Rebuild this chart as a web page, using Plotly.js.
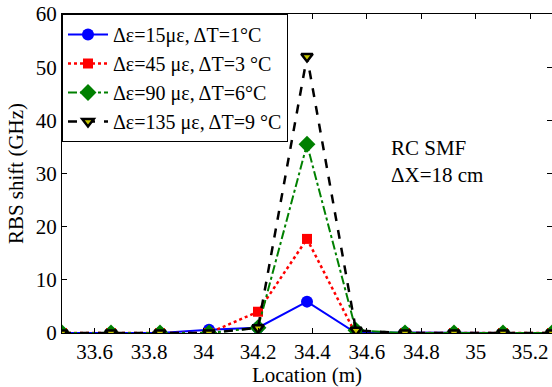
<!DOCTYPE html>
<html><head><meta charset="utf-8">
<script src="https://cdn.plot.ly/plotly-3.0.1.min.js"></script>
<style>body{margin:0;background:#fff}#c{width:552px;height:387px}</style>
</head><body><div id="c"></div>
<script>
const location_m = [33.48, 33.66, 33.84, 34.02, 34.20, 34.38, 34.56, 34.74, 34.92, 35.10, 35.28];
const shift15 = [0, 0, 0, 0.6, 1.0, 5.9, 0, 0.1, 0, 0, 0];
const shift45 = [0, 0, 0, 0, 4.0, 17.7, -0.3, 0, 0, 0, 0];
const shift90 = [0, 0, 0, 0, 1.0, 35.5, 0.5, 0, 0, 0, 0];
const shift135 = [0, 0, 0, 0, 1.0, 52.0, 0.5, 0, 0, 0, 0];
const names = ['Δε=15με, ΔT=1°C', 'Δε=45 με, ΔT=3 °C', 'Δε=90 με, ΔT=6°C', 'Δε=135 με, ΔT=9 °C'];
const xTicks = [33.6, 33.8, 34, 34.2, 34.4, 34.6, 34.8, 35, 35.2];
const yTicks = [0, 10, 20, 30, 40, 50, 60];

const font = {family: 'Liberation Serif', size: 21, color: '#000'};
const legendFont = {family: 'Liberation Serif', size: 20, color: '#000'};
const traces = [
  {x: location_m, y: shift15, name: names[0], mode: 'lines+markers',
   line: {color: '#0000ff', width: 2, dash: 'solid'},
   marker: {symbol: 'circle', size: 12, color: '#0000ff'}},
  {x: location_m, y: shift45, name: names[1], mode: 'lines+markers',
   line: {color: '#ff0000', width: 2.5, dash: 'dot'},
   marker: {symbol: 'square', size: 10, color: '#ff0000'}},
  {x: location_m, y: shift90, name: names[2], mode: 'lines+markers',
   line: {color: '#008000', width: 2, dash: 'dashdot'},
   marker: {symbol: 'diamond', size: 13, color: '#008000'}},
  {x: location_m, y: shift135, name: names[3], mode: 'lines+markers',
   line: {color: '#000000', width: 2.5, dash: 'dash'},
   marker: {symbol: 'triangle-down', size: 10, color: '#c8c800', line: {color: '#000', width: 2.5}}}
];
const layout = {
  width: 552, height: 387,
  margin: {l: 62, r: 0, t: 14, b: 54},
  paper_bgcolor: '#fff', plot_bgcolor: '#fff',
  font: font,
  showlegend: true,
  legend: {x: 0, y: 1, xanchor: 'left', yanchor: 'top', bordercolor: '#000', borderwidth: 1,
           bgcolor: '#fff', font: legendFont, tracegroupgap: 0, itemwidth: 40},
  xaxis: {range: [33.48, 35.28], tickvals: xTicks, ticktext: xTicks.map(String),
          ticks: 'inside', ticklen: 5, tickcolor: '#000', showline: true, linecolor: '#000', linewidth: 1,
          mirror: 'ticks', showgrid: false, zeroline: false, tickfont: font,
          title: {text: 'Location (m)', font: font, standoff: 2}},
  yaxis: {range: [0, 60], tickvals: yTicks, ticks: 'inside', ticklen: 5, tickcolor: '#000',
          showline: true, linecolor: '#000', linewidth: 1, mirror: 'ticks', showgrid: false,
          zeroline: false, tickfont: font,
          title: {text: 'RBS shift (GHz)', font: font, standoff: 6}},
  annotations: [
    {xref: 'paper', yref: 'paper', x: 0.667, y: 0.45, xanchor: 'left', yanchor: 'bottom',
     text: 'RC SMF<br>ΔX=18 cm', showarrow: false, align: 'left', font: font}
  ]
};
Plotly.newPlot('c', traces, layout, {displayModeBar: false, staticPlot: true});
</script></body></html>
